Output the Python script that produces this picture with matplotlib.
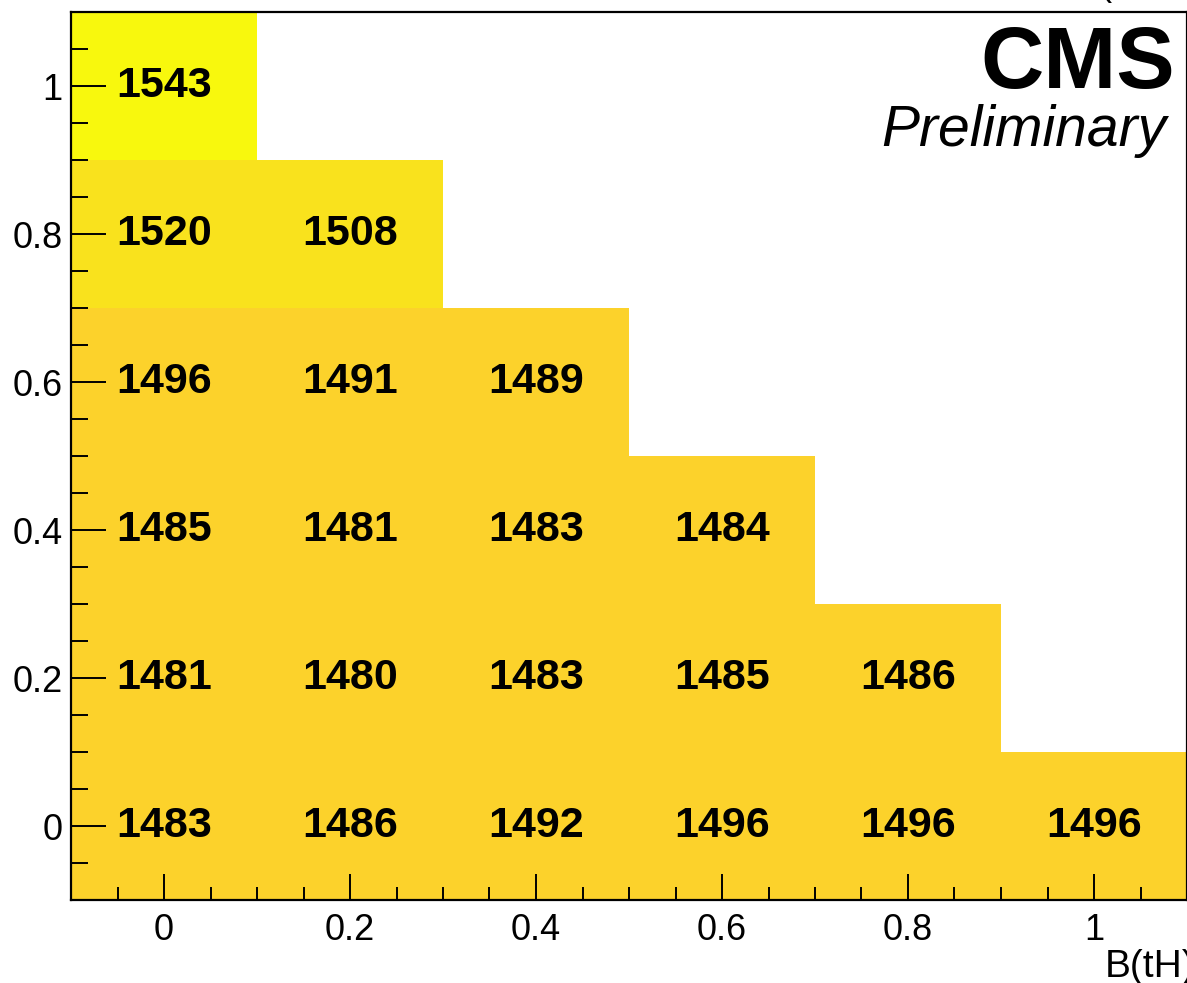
import numpy as np
import matplotlib
matplotlib.use("Agg")
import matplotlib.pyplot as plt
from matplotlib.colors import ListedColormap, BoundaryNorm
from matplotlib.ticker import MultipleLocator

plt.rcParams['font.family'] = ['Liberation Sans', 'DejaVu Sans']

# bin centres of the x and y branching-ratio scan
x_centres = [0.0, 0.2, 0.4, 0.6, 0.8, 1.0]
y_centres = [0.0, 0.2, 0.4, 0.6, 0.8, 1.0]

# expected limits, one row per y bin (only cells with x + y <= 1)
row_y00 = [1483, 1486, 1492, 1496, 1496, 1496]
row_y02 = [1481, 1480, 1483, 1485, 1486]
row_y04 = [1485, 1481, 1483, 1484]
row_y06 = [1496, 1491, 1489]
row_y08 = [1520, 1508]
row_y10 = [1543]
rows = [row_y00, row_y02, row_y04, row_y06, row_y08, row_y10]

x_label = "B(tH)"

W, H = 1187, 983
fig = plt.figure(figsize=(W / 100, H / 100), dpi=100)
ax = fig.add_axes([71 / W, 1 - 900 / H, 1 - 71 / W, (900 - 12) / H])

z = np.full((len(y_centres), len(x_centres)), np.nan)
for j, r in enumerate(rows):
    z[j, :len(r)] = r
z = np.ma.masked_invalid(z)

xe = np.append(np.array(x_centres) - 0.1, x_centres[-1] + 0.1)
ye = np.append(np.array(y_centres) - 0.1, y_centres[-1] + 0.1)

cmap = ListedColormap(['#FCD22B', '#F9E21D', '#F8F80D'])
norm = BoundaryNorm([1470, 1500, 1530, 1560], cmap.N)
ax.pcolormesh(xe, ye, z, cmap=cmap, norm=norm, shading='flat')

for j, r in enumerate(rows):
    for i, v in enumerate(r):
        ax.text(x_centres[i], y_centres[j], str(v), ha='center', va='center',
                fontsize=31, fontweight='bold', color='black')

ax.set_xlim(-0.1, 1.1)
ax.set_ylim(-0.1, 1.1)
ax.xaxis.set_major_locator(MultipleLocator(0.2))
ax.xaxis.set_minor_locator(MultipleLocator(0.05))
ax.yaxis.set_major_locator(MultipleLocator(0.2))
ax.yaxis.set_minor_locator(MultipleLocator(0.05))
ax.xaxis.set_major_formatter(plt.FuncFormatter(lambda v, p: f"{v:g}"))
ax.yaxis.set_major_formatter(plt.FuncFormatter(lambda v, p: f"{v:g}"))

ax.tick_params(axis='x', which='major', direction='in', length=19, width=1.4,
               labelsize=26, pad=9)
ax.tick_params(axis='x', which='minor', direction='in', length=9.5, width=1.4)
ax.tick_params(axis='y', which='major', direction='in', length=25, width=1.4,
               labelsize=26, pad=6)
ax.tick_params(axis='y', which='minor', direction='in', length=12.5, width=1.4)
for s in ax.spines.values():
    s.set_linewidth(1.6)

fig.text(1105 / W, 1 - 977 / H, x_label, ha='left', va='baseline', fontsize=28)
fig.text(1175 / W, 1 - 88 / H, "CMS", ha='right', va='baseline',
         fontsize=63, fontweight='bold')
fig.text(1166 / W, 1 - 146 / H, "Preliminary", ha='right', va='baseline',
         fontsize=41, fontstyle='italic')
# tail of the cut-off title above the frame
fig.text(1100 / W, 1 + 5 / H, "(", ha='left', va='baseline', fontsize=26)

fig.savefig("out.png", dpi=100)
